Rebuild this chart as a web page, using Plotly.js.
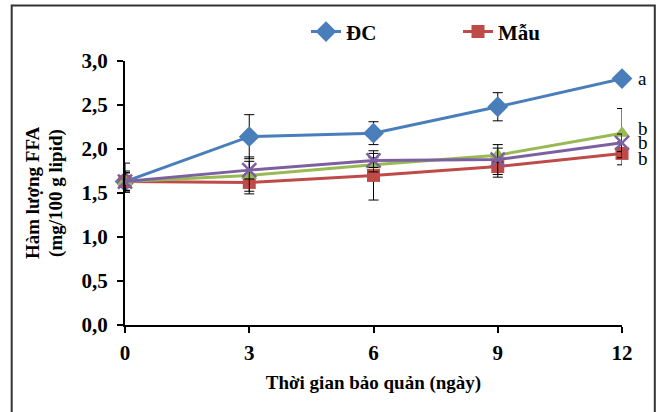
<!DOCTYPE html>
<html><head><meta charset="utf-8">
<script src="https://cdn.plot.ly/plotly-3.0.1.min.js"></script>
<style>html,body{margin:0;padding:0;background:#fff;}#chart{width:660px;height:412px;}</style>
</head><body><div id="chart"></div>
<script>
const days = [0, 3, 6, 9, 12];
const dcValues = [1.63, 2.14, 2.18, 2.48, 2.80];
const dcErrUp = [0.21, 0.25, 0.13, 0.16, 0.02];
const dcErrDown = [0.12, 0.25, 0.13, 0.16, 0.02];
const mauValues = [1.63, 1.62, 1.70, 1.80, 1.95];
const mauErr = [0.12, 0.10, 0.28, 0.12, 0.13];
const greenValues = [1.63, 1.70, 1.82, 1.93, 2.18];
const greenErr = [0.10, 0.21, 0.08, 0.08, 0.28];
const purpleValues = [1.63, 1.76, 1.87, 1.88, 2.07];
const purpleErr = [0.10, 0.10, 0.08, 0.17, 0.10];
const seriesNames = ['ĐC', 'Mẫu', 'S3', 'S4'];
const letters = ['a', 'b', 'b', 'b'];
const xTicks = [0, 3, 6, 9, 12];
const yTicks = [0, 0.5, 1, 1.5, 2, 2.5, 3];
const xTitle = 'Thời gian bảo quản (ngày)';
const yTitleLines = ['Hàm lượng FFA', '(mg/100 g lipid)'];

const FONT = 'Liberation Serif, Times New Roman, serif';
function eb(up, down) {
  const o = {type: 'data', symmetric: !down, array: up, color: '#000', thickness: 1, width: 5};
  if (down) o.arrayminus = down;
  return o;
}
const traces = [
  {x: days, y: dcValues, name: seriesNames[0], mode: 'lines+markers', cliponaxis: false,
   line: {color: '#4A7EBB', width: 3}, marker: {symbol: 'diamond', size: 16, color: '#4A7EBB'},
   error_y: eb(dcErrUp, dcErrDown)},
  {x: days, y: mauValues, name: seriesNames[1], mode: 'lines+markers', cliponaxis: false,
   line: {color: '#BE4B48', width: 3}, marker: {symbol: 'square', size: 13, color: '#BE4B48'},
   error_y: eb(mauErr)},
  {x: days, y: greenValues, name: seriesNames[2], mode: 'lines+markers', cliponaxis: false, showlegend: false,
   line: {color: '#98B954', width: 3}, marker: {symbol: 'triangle-up', size: 14, color: '#98B954'},
   error_y: eb(greenErr)},
  {x: days, y: purpleValues, name: seriesNames[3], mode: 'lines+markers', cliponaxis: false, showlegend: false,
   line: {color: '#7D60A0', width: 3}, marker: {symbol: 'x-thin', size: 14, color: '#7D60A0', line: {color: '#7D60A0', width: 2.5}},
   error_y: eb(purpleErr)}
];
const lastVals = [dcValues[4], greenValues[4], purpleValues[4], mauValues[4]];
const yShifts = [0, 5, 0, -5];
const annos = lastVals.map((v, i) => ({
  x: days[4], y: v, xref: 'x', yref: 'y', text: letters[i], showarrow: false,
  xanchor: 'left', yanchor: 'middle', xshift: 14, yshift: yShifts[i],
  font: {family: FONT, size: 19, color: '#000'}
}));
[-0.187, -0.139].forEach((px, i) => annos.push({
  x: px, y: 0.5, xref: 'paper', yref: 'paper', text: yTitleLines[i], showarrow: false,
  textangle: -90, xanchor: 'center', yanchor: 'middle',
  font: {family: FONT, size: 19, weight: 'bold', color: '#000'}
}));
const layout = {
  width: 660, height: 412,
  margin: {l: 125, r: 38, t: 61, b: 87},
  paper_bgcolor: '#fff', plot_bgcolor: '#fff',
  separators: ',.',
  font: {family: FONT, color: '#000', size: 19},
  xaxis: {range: [0, 12], tickvals: xTicks, ticktext: xTicks.map(String),
    showgrid: false, zeroline: false, showline: true, linecolor: '#000', linewidth: 2,
    ticks: 'outside', ticklen: 6, tickwidth: 2, tickcolor: '#000', ticklabelstandoff: 2,
    tickfont: {family: FONT, size: 21, weight: 'bold'},
    title: {text: xTitle, font: {family: FONT, size: 19, weight: 'bold'}, standoff: 11}},
  yaxis: {range: [0, 3], tickvals: yTicks, tickformat: '.1f',
    showgrid: false, zeroline: false, showline: true, linecolor: '#000', linewidth: 2,
    ticks: 'outside', ticklen: 6, tickwidth: 2, tickcolor: '#000', ticklabelstandoff: 5,
    tickfont: {family: FONT, size: 21, weight: 'bold'}},
  showlegend: true,
  legend: {orientation: 'h', x: 0.67, y: 1.11, xanchor: 'center', yanchor: 'middle',
    entrywidth: 107, entrywidthmode: 'pixels', font: {family: FONT, size: 21, weight: 'bold'},
    bgcolor: 'rgba(0,0,0,0)'},
  annotations: annos,
  shapes: [{type: 'rect', xref: 'paper', yref: 'paper', x0: -0.228, x1: 1.066, y0: -0.36, y1: 1.21,
    line: {color: '#333', width: 2}, fillcolor: 'rgba(0,0,0,0)', layer: 'below'}]
};
Plotly.newPlot('chart', traces, layout, {displayModeBar: false, staticPlot: true});
</script></body></html>
